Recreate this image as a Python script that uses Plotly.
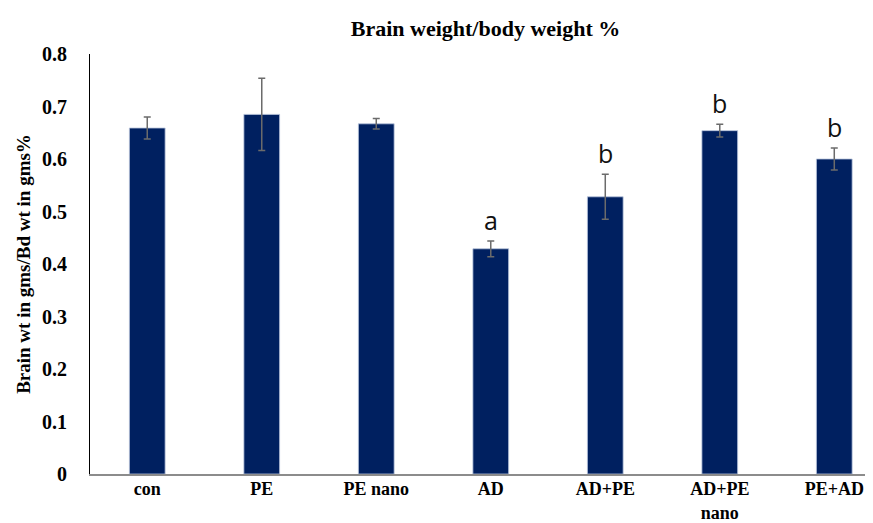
import plotly.graph_objects as go

categories = ["con", "PE", "PE nano", "AD", "AD+PE", "AD+PE<br>nano", "PE+AD"]
values = [0.659, 0.685, 0.667, 0.429, 0.528, 0.654, 0.600]
errors = [0.021, 0.069, 0.010, 0.015, 0.043, 0.012, 0.021]
letters = ["", "", "", "a", "b", "b", "b"]
y_ticks = [0, 0.1, 0.2, 0.3, 0.4, 0.5, 0.6, 0.7, 0.8]
y_tick_text = ["0", "0.1", "0.2", "0.3", "0.4", "0.5", "0.6", "0.7", "0.8"]

serif = "Liberation Serif, Times New Roman, serif"

fig = go.Figure()
fig.add_trace(go.Bar(
    x=list(range(len(categories))),
    y=values,
    width=0.312,
    marker=dict(color="#002060", line=dict(color="#b8c4dc", width=0.8)),
    error_y=dict(type="data", array=errors, visible=True,
                 color="#6b6b6b", thickness=1.5, width=3.5),
    showlegend=False,
))

for i, (v, e, t) in enumerate(zip(values, errors, letters)):
    if t:
        fig.add_annotation(x=i, y=v + e, text=t, showarrow=False,
                           yanchor="bottom", xanchor="center", yshift=2,
                           font=dict(family="Open Sans, Liberation Sans, sans-serif",
                                     size=25, color="#111111"))

fig.update_layout(
    width=873, height=523,
    margin=dict(l=82, r=0, t=46, b=57),
    paper_bgcolor="white", plot_bgcolor="white",
    title=dict(text="<b>Brain weight/body weight %</b>", x=0.5, xref="paper",
               y=1 - 20 / 523, yanchor="middle",
               font=dict(family=serif, size=22, color="black")),
    bargap=0.69,
)

fig.update_xaxes(
    tickmode="array", tickvals=list(range(len(categories))),
    ticktext=["<b>" + c.replace("<br>", "</b><br><b>") + "</b>" for c in categories],
    range=[-0.5, 6.408],
    showline=True, linecolor="#8c8c8c", linewidth=1.5,
    showgrid=False, zeroline=False, ticks="",
    ticklabelstandoff=-2, automargin=False,
    tickfont=dict(family=serif, size=18, color="black"),
)

fig.update_yaxes(
    range=[0, 0.8], tickmode="array", tickvals=y_ticks,
    ticktext=["<b>" + t + "</b>" for t in y_tick_text],
    showline=True, linecolor="black", linewidth=1,
    showgrid=False, zeroline=False, ticks="",
    ticklabelstandoff=18, automargin=False,
    tickfont=dict(family=serif, size=20, color="black"),
    title=dict(text="<b>Brain wt in gms/Bd wt in gms%</b>", standoff=6,
               font=dict(family=serif, size=19, color="black")),
)

fig.write_html("out.html")
